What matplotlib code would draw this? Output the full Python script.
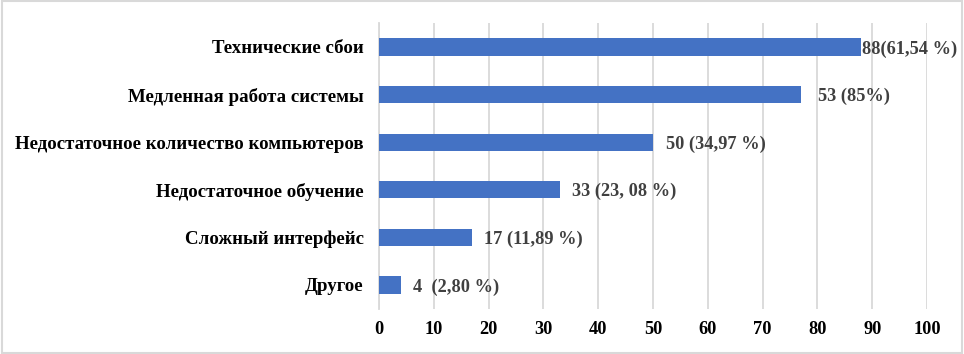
import matplotlib
matplotlib.use('Agg')
import matplotlib.pyplot as plt
from matplotlib.patches import Rectangle

# Данные (сверху вниз)
categories = ['Технические сбои', 'Медленная работа системы',
              'Недостаточное количество компьютеров', 'Недостаточное обучение',
              'Сложный интерфейс', 'Другое']
values = [88, 77, 50, 33, 17, 4]
labels = ['88(61,54 %)', '53 (85%)', '50 (34,97 %)', '33 (23, 08 %)',
          '17 (11,89 %)', '4  (2,80 %)']
xticks = list(range(0, 101, 10))

plt.rcParams['font.family'] = ['Liberation Serif', 'DejaVu Serif']
plt.rcParams['font.weight'] = 'bold'

fig = plt.figure(figsize=(9.64, 3.54), dpi=100)
ax = fig.add_axes([0.3932, 0.1277, 0.5685, 0.8068])

ypos = list(range(len(categories)))
ax.barh(ypos, values, height=0.36, color='#4472C4', zorder=3)

ax.set_ylim(len(categories) - 0.5, -0.5)
ax.set_xlim(0, 100)
ax.set_xticks(xticks)
ax.set_xticklabels([str(t) for t in xticks], fontsize=13.2, fontweight='bold')
ax.set_yticks(ypos)
ax.set_yticklabels(categories, fontsize=13.6, fontweight='bold')
ax.tick_params(axis='both', length=0)
ax.tick_params(axis='x', pad=9)
ax.tick_params(axis='y', pad=11)

ax.grid(axis='x', color='#d9d9d9', linewidth=1.3, zorder=0)
for s in ['top', 'right', 'bottom']:
    ax.spines[s].set_visible(False)
ax.spines['left'].set_color('#d9d9d9')
ax.spines['left'].set_linewidth(1.3)

# подписи данных
offsets = [1, 17, 13, 12, 12, 12]
for y, v, lab, off in zip(ypos, values, labels, offsets):
    ax.annotate(lab, (v, y), xytext=(off, -2), textcoords='offset pixels',
                ha='left', va='center', fontsize=13.2, fontweight='bold',
                color='#404040', zorder=4)

# рамка диаграммы
fig.patches.append(Rectangle((0.002, 0.004), 0.996, 0.992, transform=fig.transFigure,
                             fill=False, edgecolor='#d9d9d9', linewidth=1.5))

fig.savefig('out.png', dpi=100)
